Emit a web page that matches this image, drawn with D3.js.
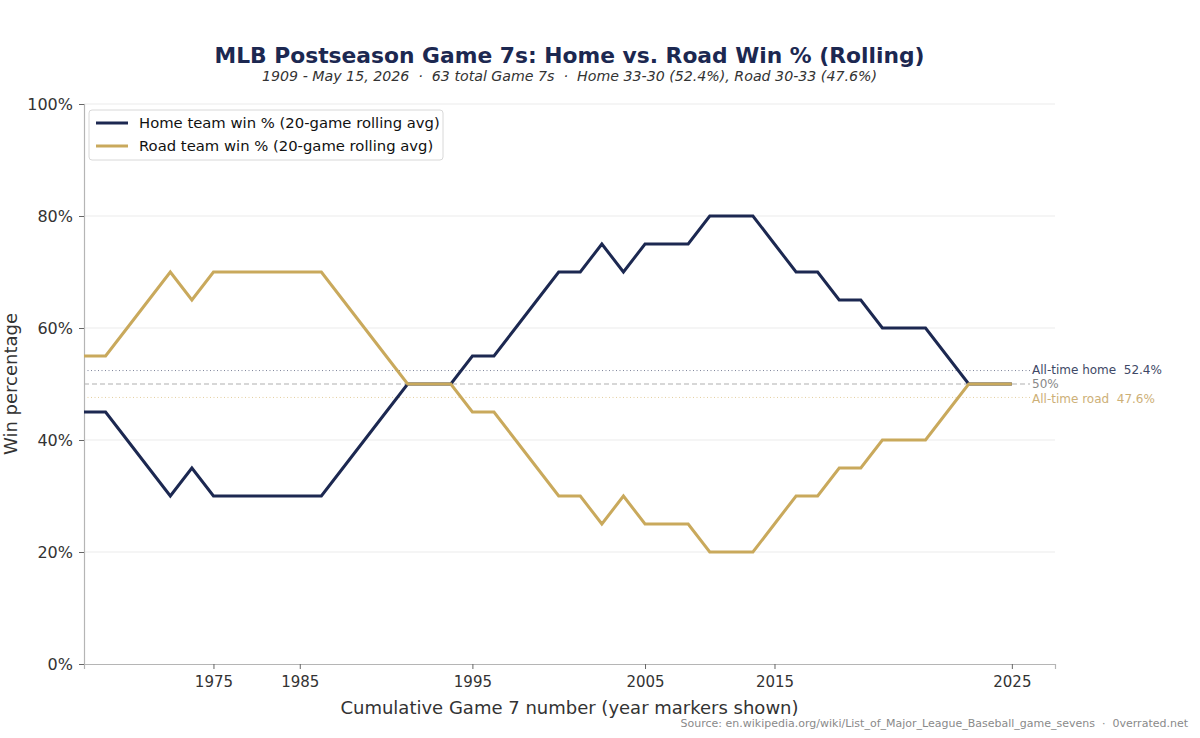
<!DOCTYPE html>
<html>
<head>
<meta charset="utf-8">
<script src="https://cdn.jsdelivr.net/npm/d3@7"></script>
<style>
  html, body { margin: 0; padding: 0; background: #ffffff; }
  svg { display: block; font-family: "DejaVu Sans", sans-serif; }
</style>
</head>
<body>
<div id="chart"></div>
<script>
// game numbers (cumulative Game 7 index) where the 20-game window ends
const gameNumbers = d3.range(20, 64);
// home team win share, 20-game rolling window
const homeRolling = [
  0.45, 0.45, 0.40, 0.35, 0.30, 0.35, 0.30, 0.30, 0.30, 0.30, 0.30,
  0.30, 0.35, 0.40, 0.45, 0.50, 0.50, 0.50, 0.55, 0.55, 0.60, 0.65,
  0.70, 0.70, 0.75, 0.70, 0.75, 0.75, 0.75, 0.80, 0.80, 0.80, 0.75,
  0.70, 0.70, 0.65, 0.65, 0.60, 0.60, 0.60, 0.55, 0.50, 0.50, 0.50
];
// road team win share, 20-game rolling window
const roadRolling = [
  0.55, 0.55, 0.60, 0.65, 0.70, 0.65, 0.70, 0.70, 0.70, 0.70, 0.70,
  0.70, 0.65, 0.60, 0.55, 0.50, 0.50, 0.50, 0.45, 0.45, 0.40, 0.35,
  0.30, 0.30, 0.25, 0.30, 0.25, 0.25, 0.25, 0.20, 0.20, 0.20, 0.25,
  0.30, 0.30, 0.35, 0.35, 0.40, 0.40, 0.40, 0.45, 0.50, 0.50, 0.50
];
// year markers on the x axis
const yearTickGames = [26, 30, 38, 46, 52, 63];
const yearTickLabels = ['1975', '1985', '1995', '2005', '2015', '2025'];
const yTicks = [0, 0.2, 0.4, 0.6, 0.8, 1.0];
const allTimeHome = 0.524;
const allTimeRoad = 0.476;

const width = 1200, height = 738;
const margin = { top: 104, right: 145, bottom: 74, left: 84 };
const homeColor = '#1c2851';
const roadColor = '#c9a95c';

const svg = d3.select('#chart').append('svg')
  .attr('width', width)
  .attr('height', height);

const x = d3.scaleLinear().domain([20, 65]).range([margin.left, width - margin.right]);
const y = d3.scaleLinear().domain([0, 1]).range([height - margin.bottom, margin.top]);

// grid
svg.append('g')
  .selectAll('line')
  .data(yTicks.filter(d => d > 0))
  .enter().append('line')
  .attr('x1', x(20)).attr('x2', x(65))
  .attr('y1', d => y(d)).attr('y2', d => y(d))
  .style('stroke', '#ebebeb')
  .style('stroke-width', 1);

// reference lines
const xRefEnd = 1030;
svg.append('line')
  .attr('x1', x(20)).attr('x2', xRefEnd)
  .attr('y1', y(allTimeHome)).attr('y2', y(allTimeHome))
  .style('stroke', '#7d849a').style('stroke-width', 1)
  .style('stroke-dasharray', '1,2.5');
svg.append('line')
  .attr('x1', x(20)).attr('x2', xRefEnd)
  .attr('y1', y(0.5)).attr('y2', y(0.5))
  .style('stroke', '#b0b0b0').style('stroke-width', 1.2)
  .style('stroke-dasharray', '5,3');
svg.append('line')
  .attr('x1', x(20)).attr('x2', xRefEnd)
  .attr('y1', y(allTimeRoad)).attr('y2', y(allTimeRoad))
  .style('stroke', '#e3cf9f').style('stroke-width', 1)
  .style('stroke-dasharray', '1,2.5');

// axes
const xAxis = d3.axisBottom(x)
  .tickValues(yearTickGames)
  .tickFormat((d, i) => yearTickLabels[i])
  .tickSize(5).tickPadding(7);
const gx = svg.append('g')
  .attr('transform', `translate(0,${y(0)})`)
  .call(xAxis);
gx.select('.domain').style('stroke', '#b5b5b5').style('stroke-width', 1.2);
gx.selectAll('.tick line').style('stroke', '#666');
gx.selectAll('.tick text')
  .style('font-size', '15px')
  .style('fill', '#333')
  .style('font-family', '"DejaVu Sans", sans-serif');

const yAxis = d3.axisLeft(y)
  .tickValues(yTicks)
  .tickFormat(d3.format('.0%'))
  .tickSize(5).tickPadding(6);
const gy = svg.append('g')
  .attr('transform', `translate(${x(20)},0)`)
  .call(yAxis);
gy.select('.domain').style('stroke', '#b5b5b5').style('stroke-width', 1.2);
gy.selectAll('.tick line').style('stroke', '#666');
gy.selectAll('.tick text')
  .style('font-size', '16px')
  .style('fill', '#333')
  .style('font-family', '"DejaVu Sans", sans-serif');

// lines
const line = d3.line()
  .x((d, i) => x(gameNumbers[i]))
  .y(d => y(d));

svg.append('path')
  .datum(homeRolling)
  .attr('d', line)
  .style('fill', 'none')
  .style('stroke', homeColor)
  .style('stroke-width', 3)
  .style('stroke-linejoin', 'miter');

svg.append('path')
  .datum(roadRolling)
  .attr('d', line)
  .style('fill', 'none')
  .style('stroke', roadColor)
  .style('stroke-width', 3)
  .style('stroke-linejoin', 'miter');

// reference labels
const refLabels = [
  { text: 'All-time home  52.4%', v: allTimeHome, color: '#3e4866', dy: -1 },
  { text: '50%', v: 0.5, color: '#888888', dy: 0 },
  { text: 'All-time road  47.6%', v: allTimeRoad, color: '#cdb077', dy: 1 }
];
svg.append('g').selectAll('text')
  .data(refLabels)
  .enter().append('text')
  .attr('x', 1032)
  .attr('y', d => y(d.v) + d.dy)
  .attr('dy', '0.35em')
  .style('font-size', '12px')
  .style('fill', d => d.color)
  .style('white-space', 'pre')
  .text(d => d.text);

// legend
const legend = svg.append('g').attr('transform', 'translate(89,110)');
legend.append('rect')
  .attr('width', 354).attr('height', 50)
  .attr('rx', 3)
  .style('fill', '#ffffff')
  .style('stroke', '#d8d8d8');
const legendItems = [
  { label: 'Home team win % (20-game rolling avg)', color: homeColor },
  { label: 'Road team win % (20-game rolling avg)', color: roadColor }
];
const li = legend.selectAll('.item')
  .data(legendItems)
  .enter().append('g')
  .attr('transform', (d, i) => `translate(0,${13 + i * 23})`);
li.append('line')
  .attr('x1', 7).attr('x2', 39)
  .style('stroke', d => d.color).style('stroke-width', 3);
li.append('text')
  .attr('x', 50).attr('dy', '0.35em')
  .style('font-size', '14.8px').style('fill', '#111')
  .text(d => d.label);

// titles
const cx = (x(20) + x(65)) / 2;
svg.append('text')
  .attr('x', cx).attr('y', 63)
  .attr('text-anchor', 'middle')
  .style('font-size', '21.8px').style('font-weight', 'bold')
  .style('fill', '#1c2851')
  .text('MLB Postseason Game 7s: Home vs. Road Win % (Rolling)');
svg.append('text')
  .attr('x', cx).attr('y', 81)
  .attr('text-anchor', 'middle')
  .style('font-size', '14.2px').style('font-style', 'italic')
  .style('fill', '#333')
  .style('white-space', 'pre')
  .text('1909 - May 15, 2026  \u00b7  63 total Game 7s  \u00b7  Home 33-30 (52.4%), Road 30-33 (47.6%)');

// axis labels
svg.append('text')
  .attr('x', cx).attr('y', 714)
  .attr('text-anchor', 'middle')
  .style('font-size', '18px').style('fill', '#333')
  .text('Cumulative Game 7 number (year markers shown)');
svg.append('text')
  .attr('transform', `translate(17,${(y(0) + y(1)) / 2}) rotate(-90)`)
  .attr('text-anchor', 'middle')
  .style('font-size', '18px').style('fill', '#333')
  .text('Win percentage');

// source
svg.append('text')
  .attr('x', 1188).attr('y', 727)
  .attr('text-anchor', 'end')
  .style('font-size', '11px').style('fill', '#8a8a8a')
  .style('white-space', 'pre')
  .text('Source: en.wikipedia.org/wiki/List_of_Major_League_Baseball_game_sevens  \u00b7  0verrated.net');
</script>
</body>
</html>
